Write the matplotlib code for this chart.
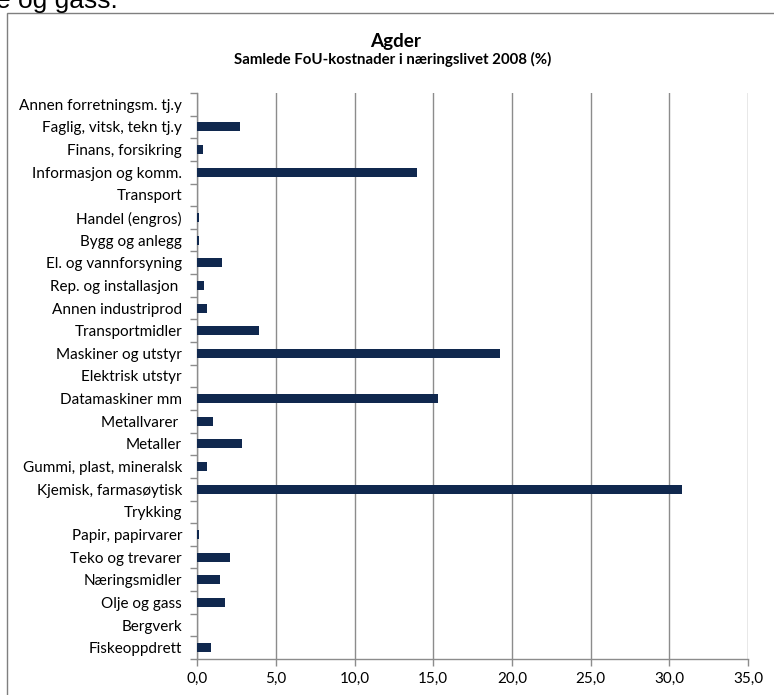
import matplotlib
matplotlib.use("Agg")
import matplotlib.pyplot as plt
from matplotlib.patches import Rectangle
from matplotlib.ticker import FuncFormatter, FixedLocator
import numpy as np

plt.rcParams['font.family'] = ['Lato', 'DejaVu Sans']

categories = [
    "Annen forretningsm. tj.y",
    "Faglig, vitsk, tekn tj.y",
    "Finans, forsikring",
    "Informasjon og komm.",
    "Transport",
    "Handel (engros)",
    "Bygg og anlegg",
    "El. og vannforsyning",
    "Rep. og installasjon ",
    "Annen industriprod",
    "Transportmidler",
    "Maskiner og utstyr",
    "Elektrisk utstyr",
    "Datamaskiner mm",
    "Metallvarer ",
    "Metaller",
    "Gummi, plast, mineralsk",
    "Kjemisk, farmasøytisk",
    "Trykking",
    "Papir, papirvarer",
    "Teko og trevarer",
    "Næringsmidler",
    "Olje og gass",
    "Bergverk",
    "Fiskeoppdrett",
]
values = [0.0, 2.72, 0.38, 13.94, 0.0, 0.13, 0.11, 1.59, 0.45, 0.64,
          3.93, 19.23, 0.0, 15.31, 1.02, 2.86, 0.64, 30.79, 0.0, 0.13,
          2.08, 1.46, 1.78, 0.0, 0.89]
xticks = [0, 5, 10, 15, 20, 25, 30, 35]
title = "Agder"
subtitle = "Samlede FoU-kostnader i næringslivet 2008 (%)"

W, H = 774, 695
fig = plt.figure(figsize=(W / 100, H / 100), dpi=100)

def fx(px):
    return px / W

def fy(py):
    return 1 - py / H

# chart border (right and bottom edges lie outside the picture)
fig.patches.append(Rectangle((fx(7), fy(720)), fx(800) - fx(7), fy(12.5) - fy(720),
                             transform=fig.transFigure, fill=False,
                             edgecolor='#7f7f7f', linewidth=1.0))

# cut-off text above the chart
fig.text(fx(-4), fy(8), "e og gass.", fontsize=19, family=['Liberation Sans', 'DejaVu Sans'],
         ha='left', va='baseline', color='black')

left, right, top, bottom = 197.3, 748.0, 93.0, 659.0
ax = fig.add_axes([fx(left), fy(bottom), fx(right) - fx(left), fy(top) - fy(bottom)])

n = len(categories)
y = np.arange(n)[::-1]
ax.barh(y, values, height=0.4, color='#10284e', zorder=3)

ax.set_xlim(0, 35)
ax.set_ylim(-0.5, n - 0.5)
ax.set_xticks(xticks)
ax.xaxis.set_major_formatter(FuncFormatter(lambda v, p: f"{v:.1f}".replace('.', ',')))
ax.grid(axis='x', color='#8c8c8c', linewidth=1.0, zorder=0)

ax.set_yticks(y)
ax.set_yticklabels(categories)
ax.yaxis.set_minor_locator(FixedLocator(np.arange(-0.5, n, 1.0)))
ax.tick_params(axis='y', which='major', length=0, pad=11, labelsize=11)
ax.tick_params(axis='y', which='minor', length=5, color='#8c8c8c', width=1)
ax.tick_params(axis='x', which='major', length=5, color='#8c8c8c', width=1, labelsize=11, pad=4)

for s in ['top', 'right']:
    ax.spines[s].set_visible(False)
for s in ['left', 'bottom']:
    ax.spines[s].set_color('#8c8c8c')
    ax.spines[s].set_linewidth(1.0)

fig.text(fx(396), fy(41), title, ha='center', va='center', fontsize=13.6, fontweight='bold')
fig.text(fx(393), fy(59), subtitle, ha='center', va='center', fontsize=10.8, fontweight='bold')

fig.savefig("out.png", dpi=100, facecolor='white')
